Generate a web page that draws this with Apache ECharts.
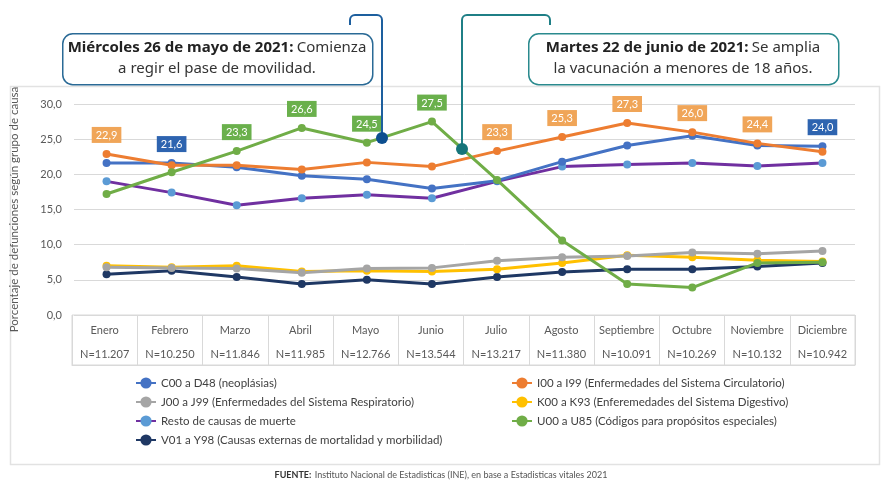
<!DOCTYPE html>
<html>
<head>
<meta charset="utf-8">
<script src="https://cdn.jsdelivr.net/npm/echarts@6/dist/echarts.min.js"></script>
<style>
  html, body { margin: 0; padding: 0; background: #fff; }
  #chart { width: 882px; height: 496px; }
</style>
</head>
<body>
<div id="chart"></div>
<script>
// Porcentaje de defunciones por grupo de causa, 2021
const months = ['Enero', 'Febrero', 'Marzo', 'Abril', 'Mayo', 'Junio', 'Julio', 'Agosto', 'Septiembre', 'Octubre', 'Noviembre', 'Diciembre'];
const totals = ['N=11.207', 'N=10.250', 'N=11.846', 'N=11.985', 'N=12.766', 'N=13.544', 'N=13.217', 'N=11.380', 'N=10.091', 'N=10.269', 'N=10.132', 'N=10.942'];

const c00 = [21.6, 21.6, 21.0, 19.8, 19.3, 18.0, 19.1, 21.8, 24.1, 25.5, 24.1, 24.0];
const i00 = [22.9, 21.3, 21.3, 20.7, 21.7, 21.1, 23.3, 25.3, 27.3, 26.0, 24.4, 23.2];
const j00 = [6.8, 6.7, 6.6, 6.0, 6.6, 6.7, 7.7, 8.2, 8.4, 8.9, 8.7, 9.1];
const k00 = [7.0, 6.8, 7.0, 6.2, 6.3, 6.2, 6.5, 7.4, 8.5, 8.2, 7.8, 7.6];
const resto = [19.0, 17.4, 15.6, 16.6, 17.1, 16.6, 19.0, 21.1, 21.4, 21.6, 21.2, 21.6];
const u00 = [17.2, 20.3, 23.3, 26.6, 24.5, 27.5, 19.2, 10.6, 4.4, 3.9, 7.4, 7.5];
const v01 = [5.8, 6.3, 5.4, 4.4, 5.0, 4.4, 5.4, 6.1, 6.5, 6.5, 6.9, 7.4];

// which points carry a value box
const c00Labels = [1, 11];
const i00Labels = [0, 6, 7, 8, 9, 10];
const u00Labels = [2, 3, 4, 5];

const yTicks = [0, 5, 10, 15, 20, 25, 30];

const FONT = 'Lato, "Open Sans", sans-serif';
const CALLOUT_FONT = '"Noto Sans", sans-serif';

function withLabels(values, idx, boxColor) {
  return values.map((v, i) => {
    if (idx.indexOf(i) < 0) return v;
    return {
      value: v,
      label: {
        show: true,
        position: 'top',
        distance: 7,
        backgroundColor: boxColor,
        color: '#fff',
        fontFamily: FONT,
        fontSize: 11,
        padding: [3, 4, 2, 4],
        formatter: p => p.value.toFixed(1).replace('.', ',')
      }
    };
  });
}

function lineSeries(name, data, lineColor, dotColor, z) {
  return {
    name: name,
    type: 'line',
    data: data,
    xAxisIndex: 0,
    yAxisIndex: 0,
    symbol: 'circle',
    symbolSize: 8,
    z: z,
    lineStyle: { color: lineColor, width: 3 },
    itemStyle: { color: dotColor || lineColor },
    emphasis: { disabled: true }
  };
}

function calloutText(cx, bold, rest, line2) {
  const rich = {
    b: { fontFamily: CALLOUT_FONT, fontSize: 15, fontWeight: 'bold', fill: '#222', lineHeight: 21 },
    r: { fontFamily: CALLOUT_FONT, fontSize: 15, fill: '#333', lineHeight: 21 }
  };
  return {
    type: 'text', z: 53, x: cx, y: 37,
    style: {
      text: '{b|' + bold + '} {r|' + rest + '}\n{r|' + line2 + '}',
      align: 'center', textAlign: 'center', verticalAlign: 'top',
      rich: rich
    }
  };
}

const chart = echarts.init(document.getElementById('chart'), null, { renderer: 'canvas' });

const legendText = { color: '#404040', fontFamily: FONT, fontSize: 11.5 };

chart.setOption({
  backgroundColor: '#fff',
  animation: false,
  grid: [
    { left: 72, right: 27, top: 104, height: 211 },
    { left: 72, right: 27, top: 315, height: 50, show: true, borderColor: '#d9d9d9', borderWidth: 1 }
  ],
  xAxis: [
    {
      type: 'category', gridIndex: 0, data: months,
      axisLine: { show: false }, axisTick: { show: false }, axisLabel: { show: false }
    },
    {
      type: 'category', gridIndex: 1, data: months, position: 'top',
      axisLine: { show: true, lineStyle: { color: '#d9d9d9' } },
      axisTick: { show: false },
      splitLine: { show: true, lineStyle: { color: '#d9d9d9' } },
      axisLabel: {
        inside: true,
        margin: 3,
        interval: 0,
        formatter: (v, i) => '{m|' + v + '}\n{n|' + totals[i] + '}',
        rich: {
          m: { fontFamily: FONT, fontSize: 11, color: '#595959', lineHeight: 24 },
          n: { fontFamily: FONT, fontSize: 11, color: '#595959', lineHeight: 24 }
        }
      }
    }
  ],
  yAxis: [
    {
      type: 'value', gridIndex: 0, min: 0, max: 30, interval: 5,
      axisLine: { show: false }, axisTick: { show: false },
      axisLabel: {
        color: '#595959', fontFamily: FONT, fontSize: 11, margin: 12,
        formatter: v => yTicks.indexOf(v) >= 0 ? v.toFixed(1).replace('.', ',') : ''
      },
      splitLine: { lineStyle: { color: '#d9d9d9', width: 1 } },
      name: 'Porcentaje de defunciones según grupo de causa',
      nameLocation: 'middle',
      nameRotate: 90,
      nameGap: 54,
      nameTextStyle: { color: '#595959', fontFamily: FONT, fontSize: 11.5 }
    },
    {
      type: 'value', gridIndex: 1, min: 0, max: 1,
      show: false
    }
  ],
  legend: [
    {
      orient: 'vertical', left: 130, top: 372, itemGap: 7, itemWidth: 20, itemHeight: 14,
      textStyle: legendText,
      data: ['C00 a D48 (neoplásias)', 'J00 a J99 (Enfermedades del Sistema Respiratorio)',
             'Resto de causas de muerte', 'V01 a Y98 (Causas externas de mortalidad y morbilidad)']
    },
    {
      orient: 'vertical', left: 506, top: 372, itemGap: 7, itemWidth: 20, itemHeight: 14,
      textStyle: legendText,
      data: ['I00 a I99 (Enfermedades del Sistema Circulatorio)', 'K00 a K93 (Enferemedades del Sistema Digestivo)',
             'U00 a U85 (Códigos para propósitos especiales)']
    }
  ],
  series: [
    lineSeries('V01 a Y98 (Causas externas de mortalidad y morbilidad)', v01, '#1f3864', null, 2),
    lineSeries('K00 a K93 (Enferemedades del Sistema Digestivo)', k00, '#ffc000', null, 3),
    lineSeries('J00 a J99 (Enfermedades del Sistema Respiratorio)', j00, '#a5a5a5', null, 3),
    lineSeries('Resto de causas de muerte', resto, '#7030a0', '#5b9bd5', 4),
    lineSeries('C00 a D48 (neoplásias)', withLabels(c00, c00Labels, '#2e64b0'), '#4472c4', null, 5),
    lineSeries('I00 a I99 (Enfermedades del Sistema Circulatorio)', withLabels(i00, i00Labels, '#f0a558'), '#ed7d31', null, 6),
    lineSeries('U00 a U85 (Códigos para propósitos especiales)', withLabels(u00, u00Labels, '#6ab04c'), '#70ad47', null, 7)
  ],
  graphic: [
    // outer frame
    { type: 'rect', left: 8, top: 84, z: -10, shape: { width: 869, height: 378 },
      style: { fill: 'none', stroke: '#e2e2e2', lineWidth: 1.5 } },

    // connector 1 (pase de movilidad)
    { type: 'line', z: 50, shape: { x1: 350, y1: 25, x2: 350, y2: 20 }, style: { stroke: '#1d5f9e', lineWidth: 2 } },
    { type: 'arc', z: 50, shape: { cx: 355, cy: 20, r: 5, startAngle: Math.PI, endAngle: Math.PI * 1.5 }, style: { stroke: '#1d5f9e', lineWidth: 2, fill: 'none' } },
    { type: 'line', z: 50, shape: { x1: 355, y1: 15, x2: 377, y2: 15 }, style: { stroke: '#1d5f9e', lineWidth: 2 } },
    { type: 'arc', z: 50, shape: { cx: 377, cy: 20, r: 5, startAngle: -Math.PI / 2, endAngle: 0 }, style: { stroke: '#1d5f9e', lineWidth: 2, fill: 'none' } },
    { type: 'line', z: 50, shape: { x1: 382, y1: 20, x2: 382, y2: 137 }, style: { stroke: '#1d5f9e', lineWidth: 2 } },
    { type: 'circle', z: 51, shape: { cx: 382, cy: 138, r: 6 }, style: { fill: '#0d4f8f' } },

    // connector 2 (vacunación)
    { type: 'line', z: 50, shape: { x1: 550, y1: 25, x2: 550, y2: 20 }, style: { stroke: '#1f7f86', lineWidth: 2 } },
    { type: 'arc', z: 50, shape: { cx: 545, cy: 20, r: 5, startAngle: -Math.PI / 2, endAngle: 0 }, style: { stroke: '#1f7f86', lineWidth: 2, fill: 'none' } },
    { type: 'line', z: 50, shape: { x1: 545, y1: 15, x2: 467, y2: 15 }, style: { stroke: '#1f7f86', lineWidth: 2 } },
    { type: 'arc', z: 50, shape: { cx: 467, cy: 20, r: 5, startAngle: Math.PI, endAngle: Math.PI * 1.5 }, style: { stroke: '#1f7f86', lineWidth: 2, fill: 'none' } },
    { type: 'line', z: 50, shape: { x1: 462, y1: 20, x2: 462, y2: 148 }, style: { stroke: '#1f7f86', lineWidth: 2 } },
    { type: 'circle', z: 51, shape: { cx: 462, cy: 149, r: 6 }, style: { fill: '#15757a' } },

    // callout boxes
    { type: 'rect', z: 52, left: 62, top: 33, shape: { width: 310, height: 51, r: 10 },
      style: { fill: '#fff', stroke: '#2a6a96', lineWidth: 1.5 } },
    calloutText(217, 'Miércoles 26 de mayo de 2021:', 'Comienza', 'a regir el pase de movilidad.'),
    { type: 'rect', z: 52, left: 528, top: 33, shape: { width: 310, height: 51, r: 10 },
      style: { fill: '#fff', stroke: '#2a8a8e', lineWidth: 1.5 } },
    calloutText(683, 'Martes 22 de junio de 2021:', 'Se amplia', 'la vacunación a menores de 18 años.'),

    // source
    { type: 'text', left: 'center', top: 469,
      style: {
        text: '{b|FUENTE:} {r|Instituto Nacional de Estadisticas (INE), en base a Estadisticas vitales 2021}',
        rich: {
          b: { fontFamily: FONT, fontSize: 9, fontWeight: 'bold', fill: '#333' },
          r: { fontFamily: FONT, fontSize: 9, fill: '#555' }
        }
      } }
  ]
});
</script>
</body>
</html>
